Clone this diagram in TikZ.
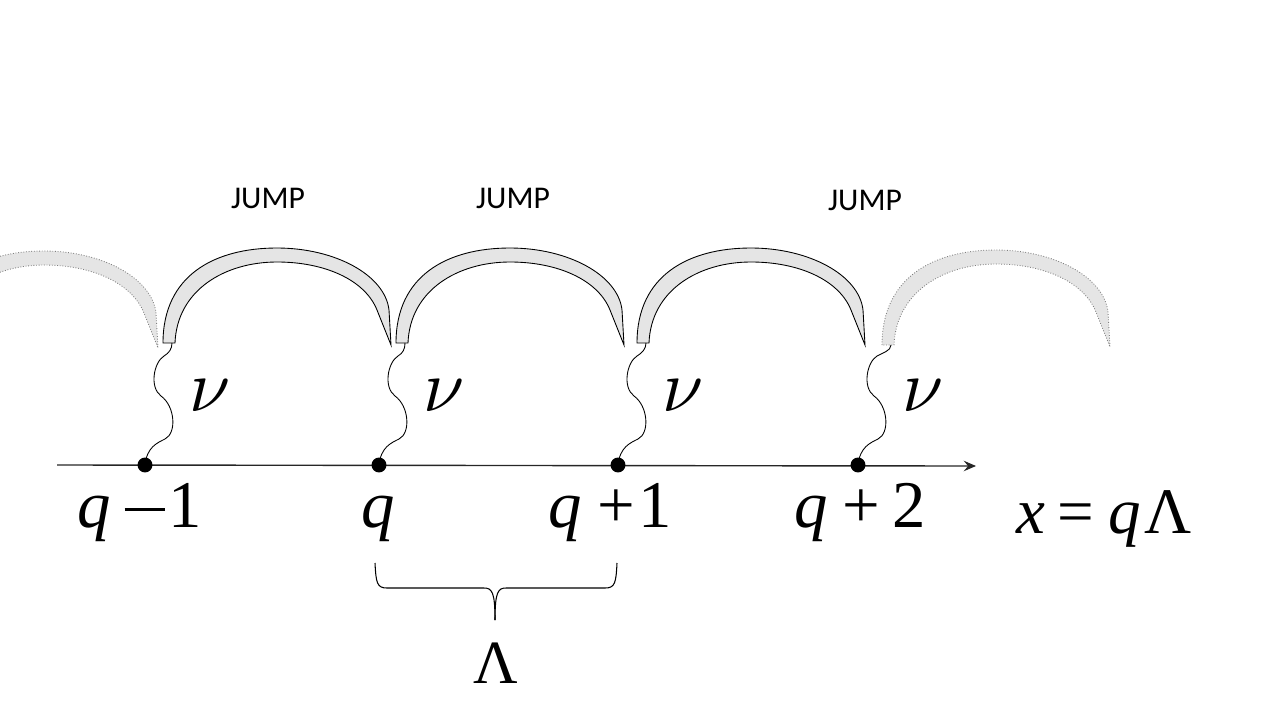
\documentclass[tikz,border=0pt]{standalone}
\usepackage{fontspec}
\setmainfont{Liberation Serif}
\newfontfamily\jumpfont{Carlito}
\usetikzlibrary{arrows.meta}

\newcommand{\minusbar}{\raisebox{0.24em}{\rule{0.6em}{0.05em}}}

\tikzset{
  jumparc/.pic={
    \path[pic actions] (0,0) .. controls (0,-68) and (52,-95) .. (114,-95)
      .. controls (172,-95) and (222,-68) .. (226,-33) -- (228,2) -- (214,-33)
      .. controls (202,-63) and (162,-81) .. (114,-81)
      .. controls (62,-81) and (14,-53) .. (12,0) -- cycle;
  }
}

\begin{document}
\begin{tikzpicture}[x=0.02cm, y=-0.02cm,
  band/.style={fill=gray!20, draw=black, line width=0.5pt},
  ghost/.style={fill=gray!20, draw=gray, densely dotted, line width=0.5pt},
  site/.style={circle, fill=black, inner sep=0pt, minimum size=8.5pt},
  axis/.style={line width=0.8pt, draw=black!85, -{Stealth[length=7pt, width=6pt, inset=2.5pt]}},
  wave/.style={line width=0.5pt},
  jump/.style={font=\jumpfont\fontsize{18}{21}\selectfont},
  nu/.style={inner sep=0pt},
  sitelabel/.style={font=\fontsize{38}{44}\selectfont, anchor=base, inner sep=0pt},
  bracket/.style={line width=0.6pt}
]
\useasboundingbox (0,0) rectangle (1280,720);
\clip (0,0) rectangle (1280,720);

% jump arcs
\foreach \ax/\ay/\kind/\i in {-70/346/ghost/0, 163/343/band/1, 396/343/band/2, 637/343/band/3, 882/345/ghost/4} {
  \pic[\kind] at (\ax,\ay) {jumparc};
  \coordinate (e\i) at (\ax+9,\ay);
}

% axis
\coordinate (a0) at (57,465);
\coordinate (a1) at (976,466);
\draw[axis] (a0) -- (a1);

% sites, waves and nu labels
\foreach \x/\i in {145/1, 379/2, 618/3, 858/4} {
  \node[site] (d\i) at (\x,465) {};
  \draw[wave] (d\i.center) .. controls +(2,-18) and +(-8,4) .. ++(20,-26)
    .. controls +(12,-6) and +(14,10) .. ++(-4,-43)
    .. controls +(-12,-9) and +(-10,6) .. ++(3,-40)
    .. controls +(5,-3) and +(0,6) .. (e\i);
  \node[nu] (nu\i) at (\x+65,396) {\scalebox{4.2}{$\nu$}};
}

\node[jump] (jump1) at (268,198) {JUMP};
\node[jump] (jump2) at (513,198) {JUMP};
\node[jump] (jump3) at (865,200) {JUMP};

\node[sitelabel] (lq1) at (140,527) {\textit{q}\hspace{0.2em}\minusbar\hspace{0.06em}1};
\node[sitelabel] (lq2) at (378,527) {\textit{q}};
\node[sitelabel] (lq3) at (610,527) {\textit{q}\hspace{0.24em}+\hspace{0.05em}1};
\node[sitelabel] (lq4) at (860,527) {\textit{q}\hspace{0.22em}+\hspace{0.18em}2};
\node[sitelabel, font=\fontsize{37}{42}\selectfont] (lx) at (1104,533)
  {\textit{x}\hspace{0.18em}=\hspace{0.22em}\textit{q}\hspace{0.05em}Λ};

% brace for the lattice spacing
\coordinate (bl) at (375,563);
\coordinate (br) at (617,563);
\coordinate (bt) at (495,620);
\draw[bracket] (bl) .. controls (376,583) and (377,588) .. (387,588) -- (484,588)
  .. controls (492,588) and (495,592) .. (bt);
\draw[bracket] (br) .. controls (616,583) and (615,588) .. (605,588) -- (506,588)
  .. controls (498,588) and (495,592) .. (bt);
\node[sitelabel, font=\fontsize{35}{40}\selectfont] (lam) at (496,683) {Λ};
\end{tikzpicture}
\end{document}
